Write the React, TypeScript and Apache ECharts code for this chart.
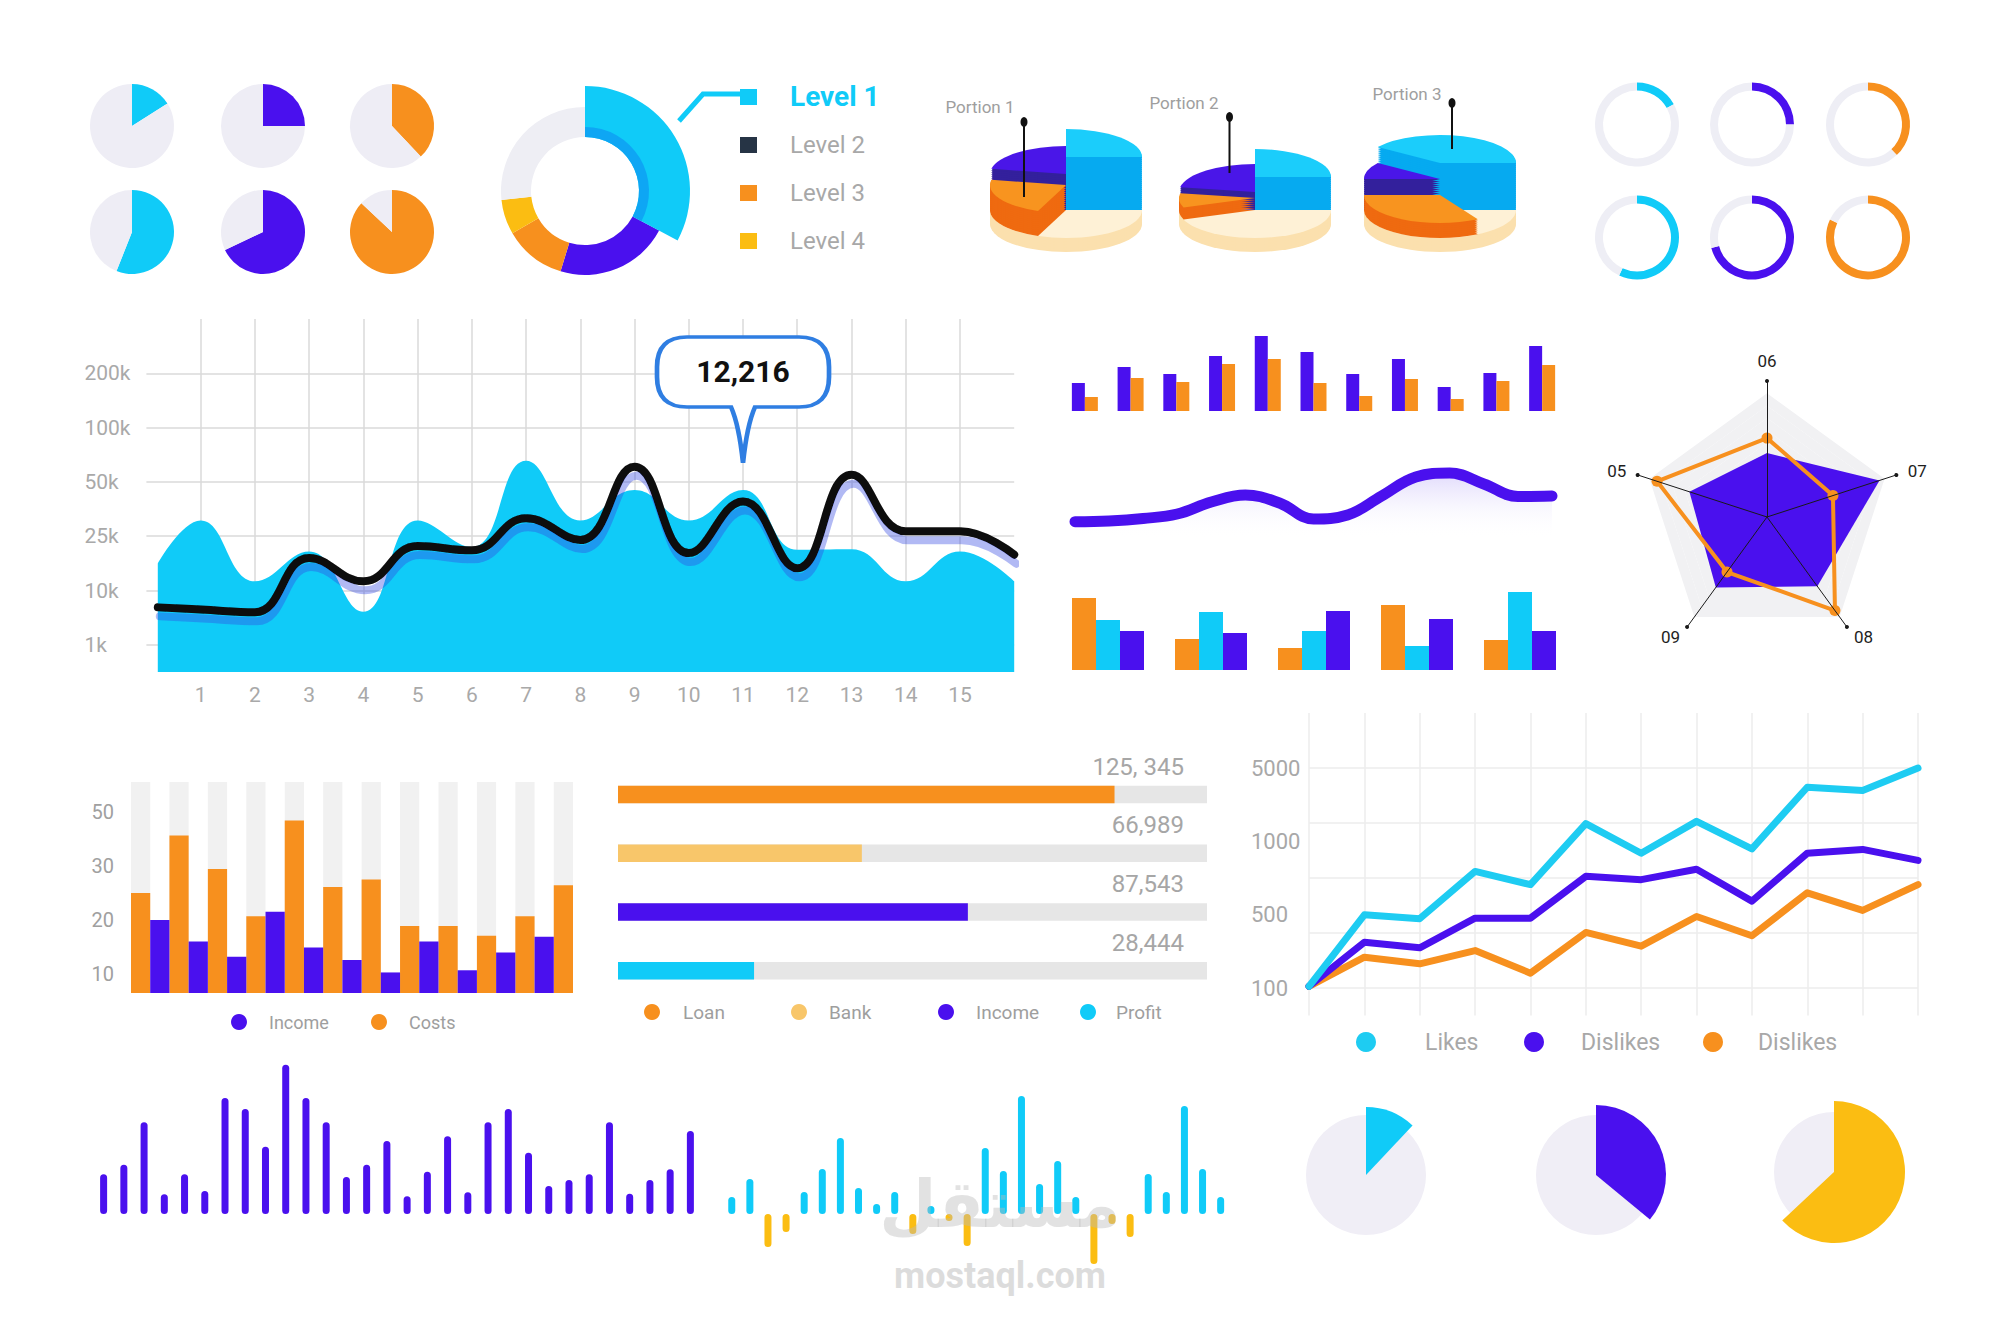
import React, { useEffect, useRef } from 'react';
import * as echarts from 'echarts';

// ---------- palette ----------
const CYAN = '#10CBF8';
const PURPLE = '#4A10EE';
const ORANGE = '#F7901E';
const YELLOW = '#FBBD12';
const LIGHT_ORANGE = '#F8C66A';
const PIE_BG = '#EEEDF5';
const GRIDC = '#DADADA';
const T = 'rgba(0,0,0,0)';

// ---------- data ----------
// small pies (top-left)
const smallPieValues = [16, 25, 38, 56, 68, 87];
const smallPieColors = [CYAN, PURPLE, ORANGE, CYAN, PURPLE, ORANGE];

// donut with levels
const levelNames = ['Level 1', 'Level 2', 'Level 3', 'Level 4'];
const levelColors = [CYAN, '#263445', ORANGE, YELLOW];
const donutNames = ['Level 1', 'Part 2', 'Level 3', 'Level 4', 'Rest'];
const donutValues = [32.8, 21.9, 11.9, 6.7, 26.7];

// 3D portions: slices order = cyan, cream, orange, purple
const portionNames = ['Portion 1', 'Portion 2', 'Portion 3'];
const portionStart = [0, 0, -55];
const portionShares = [[25, 31, 22, 22], [25, 44.4, 8.3, 22.2], [40.3, 16.7, 33.3, 9.7]];
const portionHeights = [[53, 0, 25, 36], [33, 0, 12, 18], [47, 0, 15, 31]];

// ring gauges
const ringValues = [17, 25, 38, 57, 71, 82];
const ringColors = [CYAN, PURPLE, ORANGE, CYAN, PURPLE, ORANGE];

// main area chart
const areaX = [0.21, 1, 2, 3, 4, 5, 6, 7, 8, 9, 10, 11, 12, 13, 14, 15, 16];
const areaCyan = [2.5, 3.29, 2.17, 2.72, 1.61, 3.29, 2.8, 4.39, 3.29, 3.85, 3.29, 3.85, 2.75, 2.76, 2.17, 2.72, 2.17];
const areaLine = [1.69, 1.65, 1.6, 2.6, 2.17, 2.82, 2.74, 3.33, 2.93, 4.28, 2.69, 3.64, 2.41, 4.13, 3.09, 3.09, 2.66];
const areaYLabels = ['1k', '10k', '25k', '50k', '100k', '200k'];
const areaXLabels = ['1', '2', '3', '4', '5', '6', '7', '8', '9', '10', '11', '12', '13', '14', '15'];
const calloutText = '12,216';
const calloutX = 11;
const calloutY = 4.35;

// top grouped bars
const topPurple = [28, 44, 37, 55, 75, 59, 37, 52, 24, 38, 65];
const topOrange = [14, 33, 29, 47, 52, 28, 15, 32, 12, 30, 46];

// wave
const waveValues = [38.3, 39, 41.5, 46, 58, 65, 57, 41, 45, 64, 83, 87, 76, 63.5, 64];

// bottom grouped bars
const bottomOrange = [72, 31, 22, 65, 30];
const bottomCyan = [50, 58, 39, 24, 78];
const bottomPurple = [39, 37, 59, 51, 39];

// radar (counter-clockwise from top)
const radarAxes = ['06', '05', '09', '08', '07'];
const radarPurple = [0.47, 0.6, 0.64, 0.63, 0.87];
const radarOrange = [0.58, 0.85, 0.5, 0.85, 0.51];

// income / costs
const costs = [25.0, 35.6, 29.4, 20.7, 38.4, 26.1, 27.5, 18.9, 18.9, 17.1, 20.7, 26.4];
const income = [20.0, 16.0, 13.2, 21.5, 14.9, 12.6, 10.3, 16.0, 10.7, 14.0, 16.9];
const incomeTicks = [10, 20, 30, 40];
const incomeTickLabels = ['10', '20', '30', '50'];
const incomeTop = 45.5;

// progress bars
const progressNames = ['Loan', 'Bank', 'Income', 'Profit'];
const progressFill = [84.3, 41.4, 59.4, 23.1];
const progressLabels = ['125, 345', '66,989', '87,543', '28,444'];
const progressColors = [ORANGE, LIGHT_ORANGE, PURPLE, CYAN];

// likes / dislikes
const likes = [0.03, 1.33, 1.26, 2.12, 1.88, 2.99, 2.45, 3.03, 2.53, 3.65, 3.59, 4.0];
const dislikes = [0.03, 0.83, 0.73, 1.27, 1.27, 2.03, 1.97, 2.16, 1.58, 2.45, 2.52, 2.32];
const dislikes2 = [0.03, 0.56, 0.44, 0.68, 0.27, 1.01, 0.76, 1.3, 0.95, 1.73, 1.41, 1.88];
const likesLabels = ['100', '500', '1000', '5000'];
const likesLegend = ['Likes', 'Dislikes', 'Dislikes'];

// stick bars
const purpleSticks = [39.7, 49.3, 91.7, 19.7, 39.7, 23, 116, 105, 67.3, 149.3, 116, 91.7, 37, 49.3, 73, 17.7, 42.3, 77.7, 21.7, 91.7, 105, 61.3, 28, 34, 39.7, 91.7, 20.3, 34, 44.7, 83];
const cyanSticks = [17, 35, -33, -18, 22, 45, 76, 26, 10, 22, -20, 8, -7, -32, 66, 43, 118, 30, 53, 17, -50, -10, -23, 40, 22, 108, 45, 17];

// bottom pies
const bottomPieValues = [12, 36, 63];
const bottomPieColors = [CYAN, PURPLE, YELLOW];

// ---------- layout (positions only) ----------
const SMALL_PIE_X = [132, 263, 392];
const SMALL_PIE_Y = [126, 232];
const RING_X = [1637, 1752, 1868];
const RING_Y = [124.5, 237.5];
const DONUT_C = [585, 191];
const PORTION_POS = [[1066, 210], [1255, 210], [1440, 210]];
const PORTION_LABEL_POS = [[980, 107], [1184, 103], [1407, 94]];
const PORTION_PIN = [[1024, 122, 197], [1229.5, 117, 173], [1452, 103, 149]];
const PORTION_PALETTE = [['#1BCDFB', '#06AAF0'], ['#FEF1D6', '#FBE0AE'], ['#F8941F', '#EF6A10'], ['#4A16E8', '#33209C']];
const BOTTOM_PIE_C = [[1366, 1175], [1596, 1175], [1834, 1172]];
const BOTTOM_PIE_R = [68, 70, 71];

const FONT = 'Roboto, "Noto Sans", sans-serif';

function renderPortion(params: any) {
  const i = params.dataIndex;
  const [cx, cy] = PORTION_POS[i];
  const rx = 76, ry = 28, base = 14;
  const sy = ry / rx;
  const children: any[] = [];
  for (let d = base; d > 0; d -= 1.5) {
    children.push({ type: 'ellipse', shape: { cx, cy: cy + d, rx, ry }, style: { fill: PORTION_PALETTE[1][1] } });
  }
  children.push({ type: 'ellipse', shape: { cx, cy, rx, ry }, style: { fill: PORTION_PALETTE[1][0] } });
  const shares = portionShares[i];
  const heights = portionHeights[i];
  const total = shares.reduce((a, b) => a + b, 0);
  let acc = portionStart[i];
  const slices = shares.map((s, k) => {
    const a0 = acc;
    acc += (s / total) * 360;
    return { a0, a1: acc, h: heights[k], k };
  });
  const items: any[] = [];
  slices.forEach((sl) => {
    if (sl.h <= 0) return;
    for (let lv = 0; lv < sl.h; lv += 2) items.push({ lv, sl, top: false });
    items.push({ lv: sl.h, sl, top: true });
  });
  items.sort((a, b) => a.lv - b.lv || (a.top ? 1 : 0) - (b.top ? 1 : 0));
  items.forEach((it) => {
    const sl = it.sl;
    const pal = PORTION_PALETTE[sl.k];
    children.push({
      type: 'group',
      x: cx,
      y: cy - it.lv,
      scaleY: sy,
      children: [
        {
          type: 'sector',
          shape: {
            cx: 0, cy: 0, r: rx, r0: 0,
            startAngle: ((sl.a0 - 90) * Math.PI) / 180,
            endAngle: ((sl.a1 - 90) * Math.PI) / 180,
            clockwise: true,
          },
          style: { fill: it.top ? pal[0] : pal[1] },
        },
      ],
    });
  });
  return { type: 'group', children };
}

function txt(x: number, y: number, text: string, size: number, fill: string, opts: any = {}) {
  return {
    type: 'text', x, y, silent: true, z: opts.z ?? 20,
    style: {
      text, fill, fontSize: size, fontFamily: opts.family || FONT,
      fontWeight: opts.weight || 'normal', align: opts.align || 'left', verticalAlign: opts.va || 'middle',
    },
  };
}
function dot(x: number, y: number, r: number, fill: string) {
  return { type: 'circle', silent: true, z: 20, shape: { cx: x, cy: y, r }, style: { fill } };
}

const pieBase = { type: 'pie', silent: true, label: { show: false }, labelLine: { show: false }, emphasis: { disabled: true } };

function buildOption(): any {
  const series: any[] = [];

  // small pies
  smallPieValues.forEach((v, i) => {
    series.push({
      ...pieBase,
      center: [SMALL_PIE_X[i % 3], SMALL_PIE_Y[Math.floor(i / 3)]],
      radius: 42,
      data: [
        { value: v, itemStyle: { color: smallPieColors[i] } },
        { value: 100 - v, itemStyle: { color: PIE_BG } },
      ],
    });
  });

  // donut
  const donutBaseColors = [T, PURPLE, ORANGE, YELLOW, '#EEEEF4'];
  series.push({ ...pieBase, center: DONUT_C, radius: [54, 84], data: donutValues.map((v, i) => ({ value: v, name: donutNames[i], itemStyle: { color: donutBaseColors[i] } })) });
  series.push({ ...pieBase, center: DONUT_C, radius: [54, 105], data: donutValues.map((v, i) => ({ value: v, name: donutNames[i], itemStyle: { color: i === 0 ? CYAN : T } })) });
  series.push({ ...pieBase, center: DONUT_C, radius: [54, 64], data: donutValues.map((v, i) => ({ value: v, name: donutNames[i], itemStyle: { color: i === 0 ? '#0EA6F4' : T } })) });

  // rings
  ringValues.forEach((v, i) => {
    series.push({
      ...pieBase,
      center: [RING_X[i % 3], RING_Y[Math.floor(i / 3)]],
      radius: [34, 42],
      data: [
        { value: v, itemStyle: { color: ringColors[i] } },
        { value: 100 - v, itemStyle: { color: '#EEEEF5' } },
      ],
    });
  });

  // 3D portions
  series.push({ type: 'custom', coordinateSystem: 'none', silent: true, data: portionNames.map((_, i) => i), renderItem: renderPortion, z: 3 });

  // main area chart
  series.push({
    type: 'line', xAxisIndex: 0, yAxisIndex: 0, smooth: 0.45, symbol: 'none', silent: true,
    data: areaX.map((x, i) => [x, areaCyan[i]]),
    lineStyle: { width: 0 },
    areaStyle: { color: CYAN, opacity: 1, origin: 'start' },
    z: 2,
  });
  series.push({
    type: 'line', xAxisIndex: 0, yAxisIndex: 0, smooth: 0.45, symbol: 'none', silent: true,
    data: areaX.map((x, i) => [x, areaLine[i]]),
    lineStyle: { width: 8, color: '#0A0A0A', cap: 'round', join: 'round', shadowColor: 'rgba(50,70,225,0.38)', shadowOffsetY: 9, shadowOffsetX: 2, shadowBlur: 0 },
    z: 3,
    markPoint: {
      silent: true,
      symbol: 'path://M32,2 H144 Q174,2 174,32 V42 Q174,72 144,72 H100 Q92,90 88,128 Q84,90 76,72 H32 Q2,72 2,42 V32 Q2,2 32,2 Z',
      symbolSize: [172, 126],
      symbolOffset: [0, '-50%'],
      itemStyle: { color: '#ffffff', borderColor: '#2F7EE2', borderWidth: 4 },
      label: { show: true, formatter: calloutText, color: '#111', fontSize: 30, fontWeight: 'bold', offset: [0, -28], fontFamily: FONT },
      data: [{ coord: [calloutX, calloutY] }],
    },
  });

  // top grouped bars
  series.push({ type: 'bar', xAxisIndex: 1, yAxisIndex: 1, data: topPurple, barWidth: 13, barGap: '0%', itemStyle: { color: PURPLE }, silent: true });
  series.push({ type: 'bar', xAxisIndex: 1, yAxisIndex: 1, data: topOrange, barWidth: 13, barGap: '0%', itemStyle: { color: ORANGE }, silent: true });

  // wave
  series.push({
    type: 'line', xAxisIndex: 2, yAxisIndex: 2, smooth: 0.4, symbol: 'none', silent: true, data: waveValues,
    lineStyle: { width: 11, color: PURPLE, cap: 'round' },
    areaStyle: {
      origin: 'start',
      color: new echarts.graphic.LinearGradient(0, 0, 0, 1, [
        { offset: 0, color: 'rgba(120,90,240,0.32)' },
        { offset: 0.75, color: 'rgba(255,255,255,0)' },
      ]),
    },
  });

  // bottom grouped bars
  [[bottomOrange, ORANGE], [bottomCyan, CYAN], [bottomPurple, PURPLE]].forEach(([d, c]: any) => {
    series.push({ type: 'bar', xAxisIndex: 3, yAxisIndex: 3, data: d, barWidth: 24, barGap: '0%', itemStyle: { color: c }, silent: true });
  });

  // radar
  series.push({
    type: 'radar', radarIndex: 0, silent: true, z: 2,
    data: [
      { value: radarPurple, symbol: 'none', lineStyle: { width: 0 }, areaStyle: { color: PURPLE, opacity: 1 }, itemStyle: { color: PURPLE } },
      { value: radarOrange, symbol: 'circle', symbolSize: 11, lineStyle: { color: ORANGE, width: 4 }, itemStyle: { color: ORANGE } },
    ],
  });

  // income / costs
  const slots = costs.length + income.length;
  const bgData: any[] = [], costData: any[] = [], incData: any[] = [];
  for (let s = 0; s < slots; s++) {
    if (s % 2 === 0) {
      bgData.push(incomeTop); costData.push(costs[s / 2]); incData.push('-');
    } else {
      bgData.push('-'); costData.push('-'); incData.push(income[(s - 1) / 2]);
    }
  }
  series.push({ type: 'bar', xAxisIndex: 4, yAxisIndex: 4, data: bgData, barWidth: '100%', barGap: '-100%', itemStyle: { color: '#F1F1F1' }, silent: true });
  series.push({ type: 'bar', xAxisIndex: 4, yAxisIndex: 4, data: costData, barWidth: '100%', barGap: '-100%', itemStyle: { color: ORANGE }, silent: true });
  series.push({ type: 'bar', xAxisIndex: 4, yAxisIndex: 4, data: incData, barWidth: '100%', barGap: '-100%', itemStyle: { color: PURPLE }, silent: true });

  // progress bars
  series.push({
    type: 'bar', xAxisIndex: 5, yAxisIndex: 5, data: progressNames.map(() => 100), barWidth: 17.5, barGap: '-100%',
    itemStyle: { color: '#E6E6E6' }, silent: true,
    label: {
      show: true, position: ['100%', 0], align: 'right', verticalAlign: 'bottom', offset: [-23, -7],
      formatter: (p: any) => progressLabels[p.dataIndex], color: '#A6A6A6', fontSize: 24, fontFamily: FONT,
    },
  });
  series.push({
    type: 'bar', xAxisIndex: 5, yAxisIndex: 5, barWidth: 17.5, barGap: '-100%', silent: true,
    data: progressFill.map((v, i) => ({ value: v, itemStyle: { color: progressColors[i] } })),
  });

  // likes / dislikes
  [[likes, '#1ECCF2'], [dislikes, PURPLE], [dislikes2, ORANGE]].forEach(([d, c]: any, i) => {
    series.push({
      type: 'line', name: likesLegend[i], xAxisIndex: 6, yAxisIndex: 6, data: d, symbol: 'none', silent: true,
      lineStyle: { width: 7, color: c, cap: 'round', join: 'round' }, z: 5 - i,
    });
  });

  // purple sticks
  series.push({ type: 'bar', xAxisIndex: 7, yAxisIndex: 8, data: purpleSticks, barWidth: 7, itemStyle: { color: PURPLE, borderRadius: 4 }, silent: true });
  // cyan / yellow sticks
  series.push({
    type: 'bar', xAxisIndex: 8, yAxisIndex: 9, barWidth: 7, silent: true,
    data: cyanSticks.map((v) => ({ value: v, itemStyle: { color: v >= 0 ? CYAN : YELLOW, borderRadius: 4 } })),
  });

  // bottom pies
  bottomPieValues.forEach((v, i) => {
    series.push({ ...pieBase, center: BOTTOM_PIE_C[i], radius: 60, data: [{ value: 100, itemStyle: { color: '#F0EEF6' } }] });
    series.push({
      ...pieBase, center: BOTTOM_PIE_C[i], radius: BOTTOM_PIE_R[i],
      data: [
        { value: v, itemStyle: { color: bottomPieColors[i] } },
        { value: 100 - v, itemStyle: { color: T } },
      ],
    });
  });

  // ---------- axes ----------
  const hiddenCat = (gridIndex: number, n: number, boundaryGap = true) => ({
    gridIndex, type: 'category', data: Array.from({ length: n }, (_, i) => String(i)), boundaryGap, show: false,
  });
  const hiddenVal = (gridIndex: number, min: number, max: number) => ({ gridIndex, type: 'value', min, max, show: false, splitLine: { show: false } });

  const areaYColors = Array.from({ length: 14 }, (_, i) => (i % 2 === 1 && i <= 11 ? GRIDC : T));
  const areaXColors = Array.from({ length: 17 }, (_, i) => (i >= 1 && i <= 15 ? GRIDC : T));
  const likesYColors = Array.from({ length: 12 }, (_, i) => (i % 2 === 1 && i <= 9 ? '#ECECEC' : T));

  const xAxis = [
    {
      gridIndex: 0, type: 'value', min: 0, max: 16, interval: 1,
      axisLine: { show: false }, axisTick: { show: false },
      axisLabel: {
        color: '#A9A9A9', fontSize: 21, margin: 12, fontFamily: FONT,
        formatter: (v: number) => (v >= 1 && v <= areaXLabels.length ? areaXLabels[v - 1] : ''),
      },
      splitLine: { show: true, lineStyle: { color: areaXColors, width: 1.5 } },
    },
    hiddenCat(1, topPurple.length),
    hiddenCat(2, waveValues.length, false),
    hiddenCat(3, bottomOrange.length),
    hiddenCat(4, slots),
    { gridIndex: 5, type: 'value', min: 0, max: 100, show: false, splitLine: { show: false } },
    {
      gridIndex: 6, type: 'category', boundaryGap: false, data: likes.map((_, i) => String(i)),
      axisLine: { show: false }, axisTick: { show: false }, axisLabel: { show: false },
      splitLine: { show: true, lineStyle: { color: '#EDEDED', width: 1.5 } },
    },
    hiddenCat(7, purpleSticks.length),
    hiddenCat(8, cyanSticks.length),
  ];

  const yAxis = [
    {
      gridIndex: 0, type: 'value', min: 0.5, max: 7, interval: 0.5, position: 'left',
      axisLine: { show: false }, axisTick: { show: false },
      axisLabel: {
        color: '#A9A9A9', fontSize: 21, align: 'left', margin: 62, fontFamily: FONT,
        formatter: (v: number) => {
          const k = Math.round(v);
          return Math.abs(v - k) < 1e-6 && k >= 1 && k <= areaYLabels.length ? areaYLabels[k - 1] : '';
        },
      },
      splitLine: { show: true, lineStyle: { color: areaYColors, width: 1.5 } },
    },
    hiddenVal(1, 0, 100),
    hiddenVal(2, 0, 100),
    hiddenVal(3, 0, 100),
    {
      gridIndex: 4, type: 'value', min: 6.5, max: incomeTop, interval: 0.5, position: 'left',
      axisLine: { show: false }, axisTick: { show: false }, splitLine: { show: false },
      axisLabel: {
        color: '#A0A0A0', fontSize: 20, margin: 17, fontFamily: FONT,
        formatter: (v: number) => {
          const idx = incomeTicks.indexOf(v);
          return idx >= 0 ? incomeTickLabels[idx] : '';
        },
      },
    },
    { gridIndex: 5, type: 'category', inverse: true, data: progressNames, show: false },
    {
      gridIndex: 6, type: 'value', min: -0.5, max: 5, interval: 0.5, position: 'left', offset: 0,
      axisLine: { show: false }, axisTick: { show: false }, axisLabel: { show: false },
      splitLine: { show: true, lineStyle: { color: likesYColors, width: 1.5 } },
    },
    {
      gridIndex: 6, type: 'value', min: -0.5, max: 5, interval: 1 / 6, position: 'left', offset: 0,
      axisLine: { show: false }, axisTick: { show: false }, splitLine: { show: false },
      axisLabel: {
        color: '#A8A8A8', fontSize: 22, align: 'left', margin: 58, fontFamily: FONT,
        formatter: (v: number) => {
          const r = v * 0.75;
          const k = Math.round(r);
          return Math.abs(r - k) < 0.01 && k >= 0 && k < likesLabels.length ? likesLabels[k] : '';
        },
      },
    },
    hiddenVal(7, 0, 150),
    hiddenVal(8, -60, 120),
  ];

  const grid = [
    { left: 146.4, top: 319, width: 867.8, height: 353 },
    { left: 1062, top: 311, width: 503, height: 100 },
    { left: 1075, top: 460, width: 477, height: 100 },
    { left: 1056.5, top: 570, width: 515, height: 100 },
    { left: 131, top: 782, width: 442, height: 211 },
    { left: 618, top: 765, width: 589, height: 235 },
    { left: 1309, top: 713, width: 609, height: 302.5 },
    { left: 93.5, top: 1064, width: 607, height: 150 },
    { left: 722.7, top: 1094, width: 507, height: 180 },
  ];

  const radarCommon = {
    center: [1767, 517], radius: 136, startAngle: 90, shape: 'polygon', splitNumber: 11,
    indicator: radarAxes.map((n) => ({ name: n, min: 0, max: 1 })),
  };
  const radar = [
    {
      ...radarCommon, z: 0,
      axisName: { show: false },
      axisLine: { show: false }, axisTick: { show: false }, axisLabel: { show: false },
      splitLine: { show: false },
      splitArea: { show: true, areaStyle: { color: [...Array(10).fill('#F1F1F3'), T] } },
    },
    {
      ...radarCommon, z: 5,
      axisName: { color: '#1E1E1E', fontSize: 17, fontFamily: FONT },
      nameGap: 12,
      axisLine: { show: true, lineStyle: { color: '#1A1A1A', width: 1 }, symbol: ['none', 'circle'], symbolSize: [4, 4] },
      axisTick: { show: false }, axisLabel: { show: false },
      splitLine: { show: false }, splitArea: { show: false },
    },
  ];

  // ---------- graphic ----------
  const graphic: any[] = [];
  graphic.push({ type: 'polyline', silent: true, z: 20, shape: { points: [[679, 121], [703, 94], [742, 94]] }, style: { stroke: CYAN, lineWidth: 5, fill: 'none' } });
  levelNames.forEach((n, i) => {
    graphic.push({ type: 'rect', silent: true, z: 20, shape: { x: 740, y: 89 + 48 * i, width: 17, height: 16 }, style: { fill: levelColors[i] } });
    graphic.push(i === 0 ? txt(790, 96 + 48 * i, n, 28, CYAN, { weight: 'bold' }) : txt(790, 97 + 48 * i, n, 24, '#A8A8A8'));
  });
  portionNames.forEach((n, i) => {
    graphic.push(txt(PORTION_LABEL_POS[i][0], PORTION_LABEL_POS[i][1], n, 17, '#9E9E9E', { align: 'center' }));
    const [px, y0, y1] = PORTION_PIN[i];
    graphic.push({ type: 'line', silent: true, z: 20, shape: { x1: px, y1: y0, x2: px, y2: y1 }, style: { stroke: '#111', lineWidth: 2 } });
    graphic.push({ type: 'ellipse', silent: true, z: 20, shape: { cx: px, cy: y0, rx: 3.5, ry: 5 }, style: { fill: '#111' } });
  });
  graphic.push(dot(239, 1022, 8, PURPLE), txt(269, 1022, 'Income', 18, '#9E9E9E'));
  graphic.push(dot(379, 1022, 8, ORANGE), txt(409, 1022, 'Costs', 18, '#9E9E9E'));
  const progLegX = [652, 799, 946, 1088];
  const progTxtX = [683, 829, 976, 1116];
  progressNames.forEach((n, i) => {
    graphic.push(dot(progLegX[i], 1012, 8, progressColors[i]), txt(progTxtX[i], 1012, n, 19, '#9E9E9E'));
  });
  const likesDotX = [1366, 1534, 1713];
  const likesTxtX = [1425, 1581, 1758];
  const likesColors = ['#1ECCF2', PURPLE, ORANGE];
  likesLegend.forEach((n, i) => {
    graphic.push(dot(likesDotX[i], 1042, 10, likesColors[i]), txt(likesTxtX[i], 1042, n, 23, '#A8A8A8'));
  });
  // watermark
  graphic.push(txt(1000, 1204, 'مستقل', 66, 'rgba(185,185,185,0.42)', { align: 'center', weight: 'bold', family: '"DejaVu Sans", sans-serif', z: 30 }));
  graphic.push(txt(1000, 1276, 'mostaql.com', 36, 'rgba(185,185,185,0.5)', { align: 'center', weight: 'bold', z: 30 }));

  return {
    animation: false,
    backgroundColor: '#ffffff',
    textStyle: { fontFamily: FONT },
    grid, xAxis, yAxis, radar, series, graphic,
  };
}

export default function App() {
  const ref = useRef<HTMLDivElement>(null);
  useEffect(() => {
    document.body.style.margin = '0';
    const chart = echarts.init(ref.current as HTMLDivElement, undefined, { renderer: 'svg', width: 2000, height: 1317 });
    chart.setOption(buildOption());
    return () => chart.dispose();
  }, []);
  return <div ref={ref} style={{ width: 2000, height: 1317, background: '#fff' }} />;
}
